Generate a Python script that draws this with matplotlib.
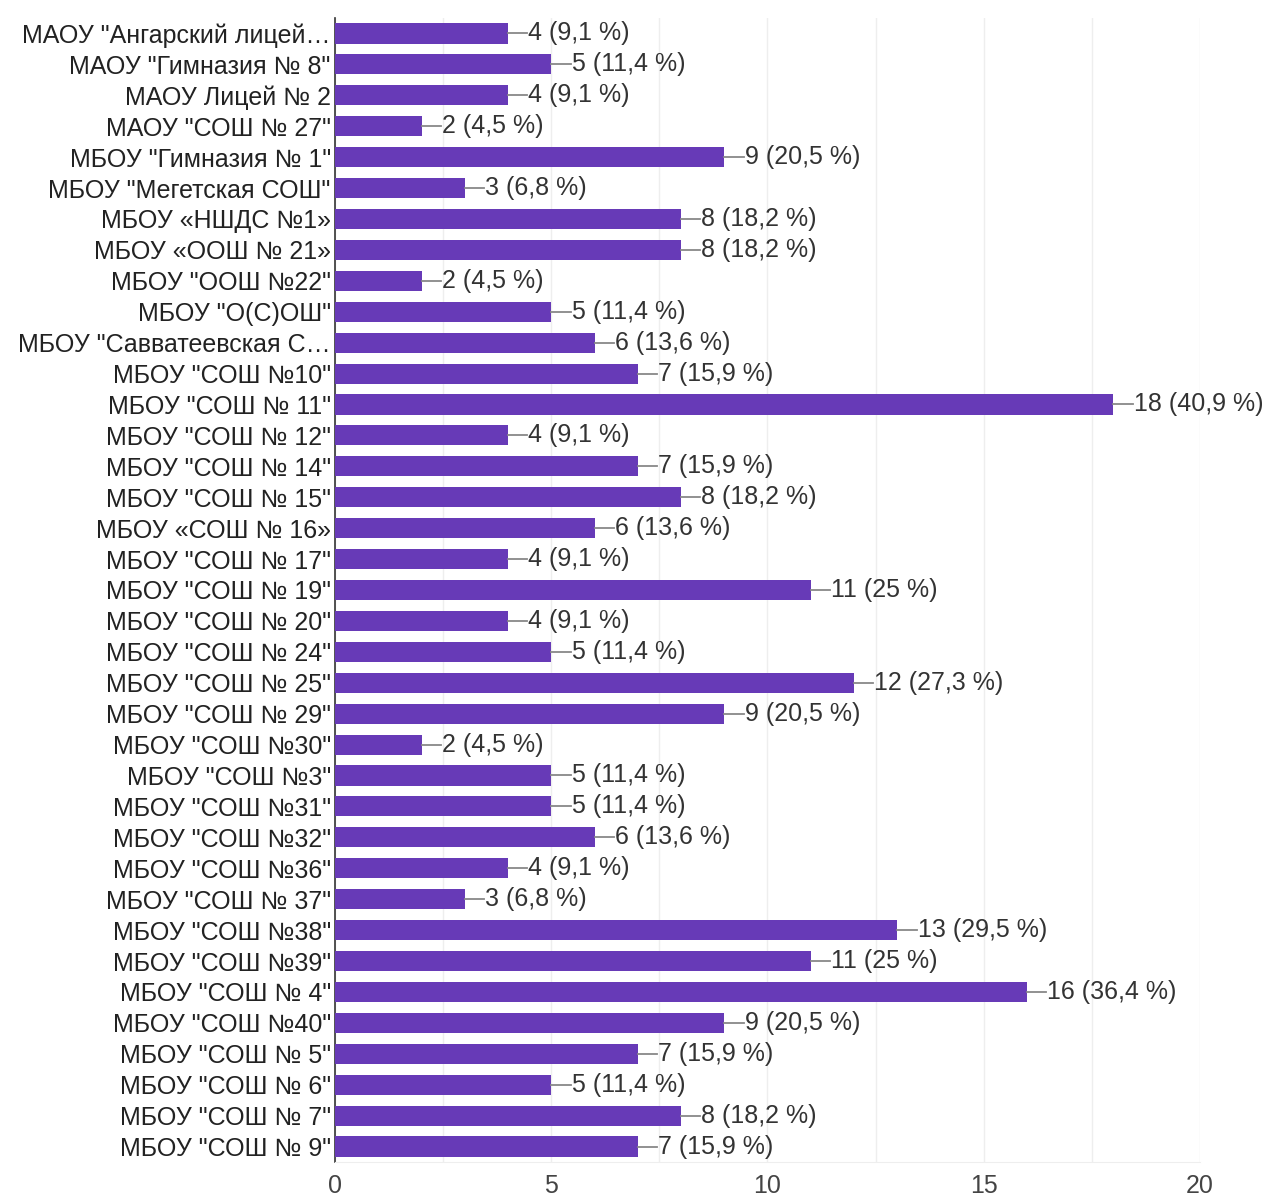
import numpy as np
import matplotlib.pyplot as plt

schools = ['МАОУ "Ангарский лицей…', 'МАОУ "Гимназия № 8"', 'МАОУ Лицей № 2',
           'МАОУ "СОШ № 27"', 'МБОУ "Гимназия № 1"', 'МБОУ "Мегетская СОШ"',
           'МБОУ «НШДС №1»', 'МБОУ «ООШ № 21»', 'МБОУ "ООШ №22"', 'МБОУ "О(С)ОШ"',
           'МБОУ "Савватеевская С…', 'МБОУ "СОШ №10"', 'МБОУ "СОШ № 11"',
           'МБОУ "СОШ № 12"', 'МБОУ "СОШ № 14"', 'МБОУ "СОШ № 15"', 'МБОУ «СОШ № 16»',
           'МБОУ "СОШ № 17"', 'МБОУ "СОШ № 19"', 'МБОУ "СОШ № 20"', 'МБОУ "СОШ № 24"',
           'МБОУ "СОШ № 25"', 'МБОУ "СОШ № 29"', 'МБОУ "СОШ №30"', 'МБОУ "СОШ №3"',
           'МБОУ "СОШ №31"', 'МБОУ "СОШ №32"', 'МБОУ "СОШ №36"', 'МБОУ "СОШ № 37"',
           'МБОУ "СОШ №38"', 'МБОУ "СОШ №39"', 'МБОУ "СОШ № 4"', 'МБОУ "СОШ №40"',
           'МБОУ "СОШ № 5"', 'МБОУ "СОШ № 6"', 'МБОУ "СОШ № 7"', 'МБОУ "СОШ № 9"']
counts = [4, 5, 4, 2, 9, 3, 8, 8, 2, 5, 6, 7, 18, 4, 7, 8, 6, 4, 11, 4, 5, 12, 9,
          2, 5, 5, 6, 4, 3, 13, 11, 16, 9, 7, 5, 8, 7]
percents = ['9,1', '11,4', '9,1', '4,5', '20,5', '6,8', '18,2', '18,2', '4,5', '11,4',
            '13,6', '15,9', '40,9', '9,1', '15,9', '18,2', '13,6', '9,1', '25', '9,1',
            '11,4', '27,3', '20,5', '4,5', '11,4', '11,4', '13,6', '9,1', '6,8', '29,5',
            '25', '36,4', '20,5', '15,9', '11,4', '18,2', '15,9']

plt.rcParams['font.family'] = ['Liberation Sans', 'DejaVu Sans']

fig = plt.figure(figsize=(12.69, 12.01), dpi=100)
ax = fig.add_axes([0.264, 0.0325, 0.6816, 0.9525])

y = np.arange(len(schools))
ax.barh(y, counts, height=0.65, color='#673ab7', zorder=3)

for yi, c, p in zip(y, counts, percents):
    ax.plot([c, c + 0.45], [yi, yi], color='#888888', lw=1.3, zorder=3)
    ax.text(c + 0.47, yi, f'{c} ({p} %)', va='center', ha='left',
            fontsize=18, color='#333333')

ax.set_ylim(len(schools) - 0.5, -0.5)
ax.set_xlim(0, 20)
ax.set_yticks(y)
ax.set_yticklabels(schools, fontsize=18, color='#222222')
ax.set_xticks([0, 5, 10, 15, 20])
ax.set_xticks(np.arange(0, 20.1, 2.5), minor=True)
ax.tick_params(axis='x', which='both', length=0, labelsize=18, labelcolor='#444444', pad=9)
ax.tick_params(axis='y', length=0, pad=3)
ax.grid(axis='x', which='both', color='#eeeeee', lw=1, zorder=0)

for s in ['top', 'right']:
    ax.spines[s].set_visible(False)
ax.spines['bottom'].set_color('#eeeeee')
ax.spines['left'].set_color('#333333')
ax.spines['left'].set_linewidth(1.2)

fig.savefig('out.png', dpi=100)
